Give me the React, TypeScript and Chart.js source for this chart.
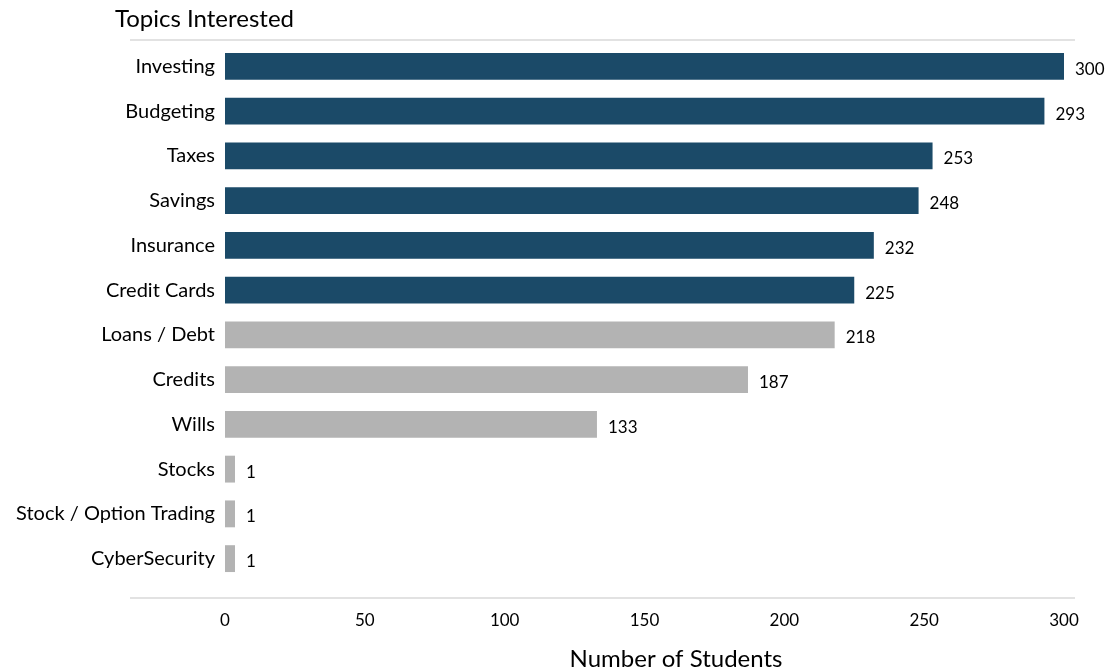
import React, { useEffect, useRef } from "react";
import { Chart, registerables } from "chart.js";

Chart.register(...registerables);

const topics = [
  "Investing",
  "Budgeting",
  "Taxes",
  "Savings",
  "Insurance",
  "Credit Cards",
  "Loans / Debt",
  "Credits",
  "Wills",
  "Stocks",
  "Stock / Option Trading",
  "CyberSecurity",
];
const students = [300, 293, 253, 248, 232, 225, 218, 187, 133, 1, 1, 1];
const highlighted = [true, true, true, true, true, true, false, false, false, false, false, false];
const xTicks = [0, 50, 100, 150, 200, 250, 300];

const chartTitle = "Topics Interested";
const axisTitle = "Number of Students";

const DARK = "#1b4a68";
const GREY = "#b3b3b3";
const FONT = "Lato, 'Open Sans', sans-serif";

const frame = {
  id: "frame",
  afterDraw(chart: any) {
    const { ctx, chartArea } = chart;
    ctx.save();
    ctx.strokeStyle = "#d9d9d9";
    ctx.lineWidth = 1.5;
    ctx.beginPath();
    ctx.moveTo(130, chartArea.top - 4);
    ctx.lineTo(1075, chartArea.top - 4);
    ctx.moveTo(130, chartArea.bottom + 17);
    ctx.lineTo(1075, chartArea.bottom + 17);
    ctx.stroke();
    ctx.fillStyle = "#000";
    ctx.textBaseline = "middle";
    ctx.font = `24px ${FONT}`;
    ctx.textAlign = "left";
    ctx.fillText(chartTitle, 115, 19);
    ctx.textAlign = "center";
    ctx.fillText(axisTitle, 676, 659);
    ctx.restore();
  },
  afterDatasetsDraw(chart: any) {
    const { ctx } = chart;
    const meta = chart.getDatasetMeta(0);
    ctx.save();
    ctx.fillStyle = "#000";
    ctx.font = `17px ${FONT}`;
    ctx.textAlign = "left";
    ctx.textBaseline = "middle";
    meta.data.forEach((bar: any, i: number) => {
      ctx.fillText(String(students[i]), bar.x + 11, bar.y + 3);
    });
    ctx.restore();
  },
};

export default function App() {
  const ref = useRef<HTMLCanvasElement>(null);

  useEffect(() => {
    if (!ref.current) return;
    const chart = new Chart(ref.current, {
      type: "bar",
      data: {
        labels: topics,
        datasets: [
          {
            data: students,
            backgroundColor: highlighted.map((h) => (h ? DARK : GREY)),
            barPercentage: 0.6,
            categoryPercentage: 1,
            minBarLength: 10,
          },
        ],
      },
      options: {
        indexAxis: "y",
        animation: false,
        responsive: true,
        maintainAspectRatio: false,
        layout: { padding: { top: 44, right: 49, left: 0, bottom: 0 } },
        plugins: {
          legend: { display: false },
          tooltip: { enabled: false },
        },
        scales: {
          x: {
            min: 0,
            max: 300,
            afterBuildTicks(scale: any) {
              scale.ticks = xTicks.map((v) => ({ value: v }));
            },
            afterFit(scale: any) {
              scale.height = 91;
            },
            grid: { display: false, drawTicks: false },
            border: { display: false },
            ticks: {
              color: "#000",
              font: { family: FONT, size: 17 },
              padding: 29,
              maxRotation: 0,
            },
          },
          y: {
            afterFit(scale: any) {
              scale.width = 225;
            },
            grid: { display: false, drawTicks: false },
            border: { display: false },
            ticks: {
              color: "#000",
              font: { family: FONT, size: 20 },
              padding: 10,
              autoSkip: false,
            },
          },
        },
      },
      plugins: [frame],
    });
    return () => chart.destroy();
  }, []);

  return (
    <div style={{ position: "fixed", left: 0, top: 0, width: 1113, height: 672, background: "#fff" }}>
      <canvas ref={ref} />
    </div>
  );
}
